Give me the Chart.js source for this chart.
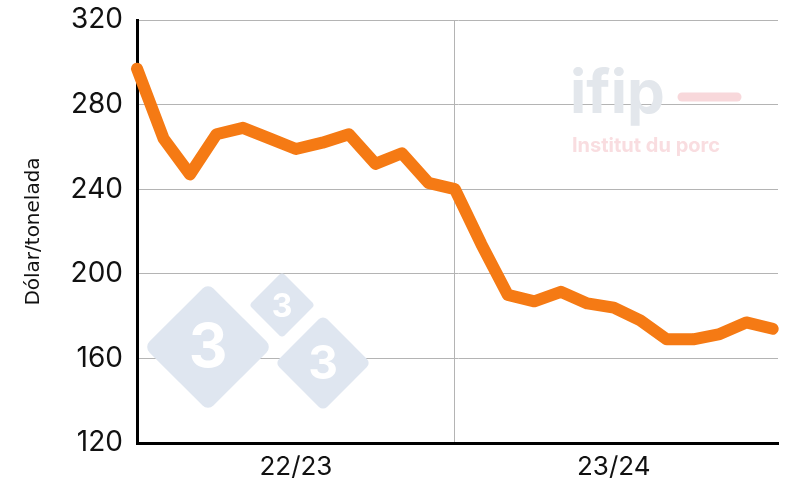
<!DOCTYPE html>
<html>
<head>
<meta charset="utf-8">
<script src="https://cdn.jsdelivr.net/npm/chart.js@4"></script>
<style>
  html, body { margin: 0; padding: 0; background: #fff; }
  #wrap { width: 800px; height: 502px; }
</style>
</head>
<body>
<div id="wrap"><canvas id="priceChart"></canvas></div>
<script>
// Monthly prices, two campaigns (index 0..24)
const prices = [297, 264, 247, 266, 269, 264, 259, 262, 266, 252, 257, 243, 240,
                214, 190, 187, 191.5, 186, 184, 178, 169, 169, 171.5, 177, 174];
const seasonLabels = ["22/23", "23/24"];
const seasonTickPos = [6, 18];
const seasonSplit = 12;
const yTicks = [120, 160, 200, 240, 280, 320];

const points = prices.map((v, i) => ({ x: i, y: v }));

// Watermarks: 333 diamonds and ifip logo
const watermarks = {
    id: "watermarks",
    beforeDatasetsDraw(chart) {
        const ctx = chart.ctx;
        ctx.save();

        function diamond(cx, cy, r, label, size) {
            const rr = r * 0.12;
            ctx.save();
            ctx.translate(cx, cy);
            ctx.rotate(Math.PI / 4);
            const s = r / Math.SQRT2;
            ctx.fillStyle = "#dfe6f0";
            ctx.beginPath();
            ctx.roundRect(-s, -s, 2 * s, 2 * s, rr);
            ctx.fill();
            ctx.restore();
            ctx.fillStyle = "#ffffff";
            ctx.font = "bold " + size + "px Inter, 'Open Sans', sans-serif";
            ctx.textAlign = "center";
            ctx.textBaseline = "middle";
            ctx.fillText(label, cx, cy + 2);
        }
        diamond(208, 347, 64, "3", 60);
        diamond(282, 305, 33, "3", 32);
        diamond(323, 363, 48, "3", 46);

        // ifip logo
        ctx.fillStyle = "#e3e7ec";
        ctx.font = "bold 60px Inter, 'Open Sans', sans-serif";
        ctx.textAlign = "left";
        ctx.textBaseline = "alphabetic";
        ctx.fillText("ifip", 570, 113);
        ctx.strokeStyle = "#f8d8db";
        ctx.lineWidth = 9;
        ctx.lineCap = "round";
        ctx.beginPath();
        ctx.moveTo(682, 97);
        ctx.lineTo(737, 97);
        ctx.stroke();
        ctx.fillStyle = "#f9dde0";
        ctx.font = "bold 20px Inter, 'Open Sans', sans-serif";
        ctx.fillText("Institut du porc", 572, 152);

        ctx.restore();
    }
};

new Chart(document.getElementById("priceChart"), {
    type: "line",
    data: {
        datasets: [{
            data: points,
            borderColor: "#f57a14",
            borderWidth: 12,
            borderJoinStyle: "round",
            borderCapStyle: "round",
            pointRadius: 0,
            tension: 0,
            clip: false
        }]
    },
    options: {
        responsive: true,
        maintainAspectRatio: false,
        animation: false,
        layout: {
            padding: { left: 0, right: 22, top: 20, bottom: 0 }
        },
        plugins: {
            legend: { display: false },
            tooltip: { enabled: false }
        },
        scales: {
            x: {
                type: "linear",
                min: 0,
                max: 24.2,
                afterBuildTicks(scale) {
                    scale.ticks = [seasonTickPos[0], seasonSplit, seasonTickPos[1]].map(v => ({ value: v }));
                },
                afterFit(scale) {
                    scale.height = 59;
                    scale.paddingLeft = 0;
                    scale.paddingRight = 0;
                },
                ticks: {
                    autoSkip: false,
                    maxRotation: 0,
                    padding: 9,
                    color: "#111",
                    font: { family: "Inter, 'Open Sans', sans-serif", size: 26 },
                    callback(value) {
                        const idx = seasonTickPos.indexOf(value);
                        return idx >= 0 ? seasonLabels[idx] : "";
                    }
                },
                grid: {
                    drawTicks: false,
                    color: ctx => (ctx.tick && ctx.tick.value === seasonSplit) ? "#b4b4b4" : "rgba(0,0,0,0)",
                    lineWidth: 1
                },
                border: { display: true, color: "#000", width: 3 }
            },
            y: {
                min: 120,
                max: 320,
                afterBuildTicks(scale) {
                    scale.ticks = yTicks.map(v => ({ value: v }));
                },
                afterFit(scale) {
                    scale.width = 137;
                    scale.paddingTop = 0;
                    scale.paddingBottom = 0;
                },
                ticks: {
                    padding: 14,
                    color: "#111",
                    font: { family: "Inter, 'Open Sans', sans-serif", size: 28 }
                },
                title: {
                    display: true,
                    text: "Dólar/tonelada",
                    color: "#111",
                    font: { family: "'DejaVu Sans', sans-serif", size: 20 },
                    padding: { top: 22, bottom: 10 }
                },
                grid: {
                    drawTicks: false,
                    color: "#b4b4b4",
                    lineWidth: 1
                },
                border: { display: true, color: "#000", width: 3 }
            }
        }
    },
    plugins: [watermarks]
});
</script>
</body>
</html>
